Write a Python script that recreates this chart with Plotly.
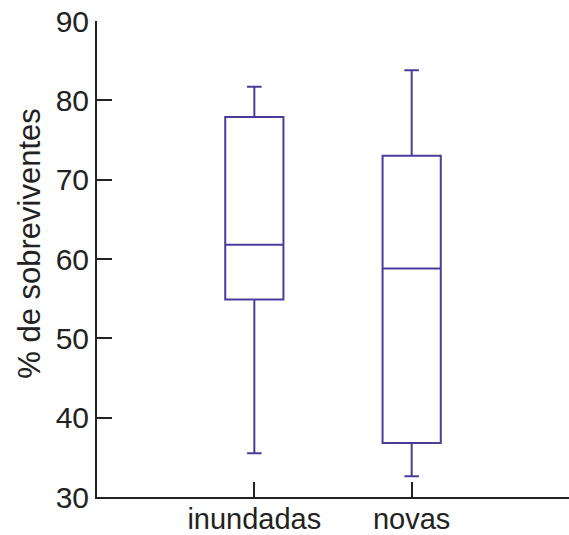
import plotly.graph_objects as go

categories = ["inundadas", "novas"]
lower_whisker = [35.5, 32.6]
q1_values = [54.9, 36.8]
median_values = [61.8, 58.8]
q3_values = [77.9, 73.0]
upper_whisker = [81.7, 83.8]
y_ticks = [30, 40, 50, 60, 70, 80, 90]
y_title = "% de sobreviventes"

box_color = "#4a3c9c"

fig = go.Figure()
fig.add_trace(go.Box(
    x=categories,
    q1=q1_values,
    median=median_values,
    q3=q3_values,
    lowerfence=lower_whisker,
    upperfence=upper_whisker,
    width=0.37,
    whiskerwidth=0.25,
    line=dict(color=box_color, width=2),
    fillcolor="rgba(0,0,0,0)",
    boxpoints=False,
    hoverinfo="skip",
))

font_family = "Liberation Sans, Arial, sans-serif"
fig.update_layout(
    width=569,
    height=535,
    margin=dict(l=97, r=0, t=21, b=38),
    paper_bgcolor="white",
    plot_bgcolor="white",
    showlegend=False,
    font=dict(family=font_family, color="#222222", size=30),
    xaxis=dict(
        type="category",
        categoryorder="array",
        categoryarray=categories,
        range=[-1, 2],
        automargin=False,
        showgrid=False,
        zeroline=False,
        showline=True,
        linecolor="#222222",
        linewidth=2,
        ticks="inside",
        ticklen=15,
        tickwidth=2,
        tickcolor="#222222",
        tickfont=dict(size=29),
        ticklabelstandoff=-5,
    ),
    yaxis=dict(
        range=[30, 90],
        tickvals=y_ticks,
        automargin=False,
        showgrid=False,
        zeroline=False,
        showline=True,
        linecolor="#222222",
        linewidth=2,
        ticks="inside",
        ticklen=15,
        tickwidth=2,
        tickcolor="#222222",
        tickfont=dict(size=30),
    ),
    annotations=[dict(
        text=y_title,
        textangle=-90,
        xref="paper", yref="paper",
        x=-0.142, y=0.534,
        xanchor="center", yanchor="middle",
        showarrow=False,
        font=dict(size=31, color="#222222"),
    )],
)

fig.write_html(
    "out.html",
    config={"displayModeBar": False},
    post_script="document.body.style.margin='0';document.body.style.padding='0';document.body.style.overflow='hidden';",
)
